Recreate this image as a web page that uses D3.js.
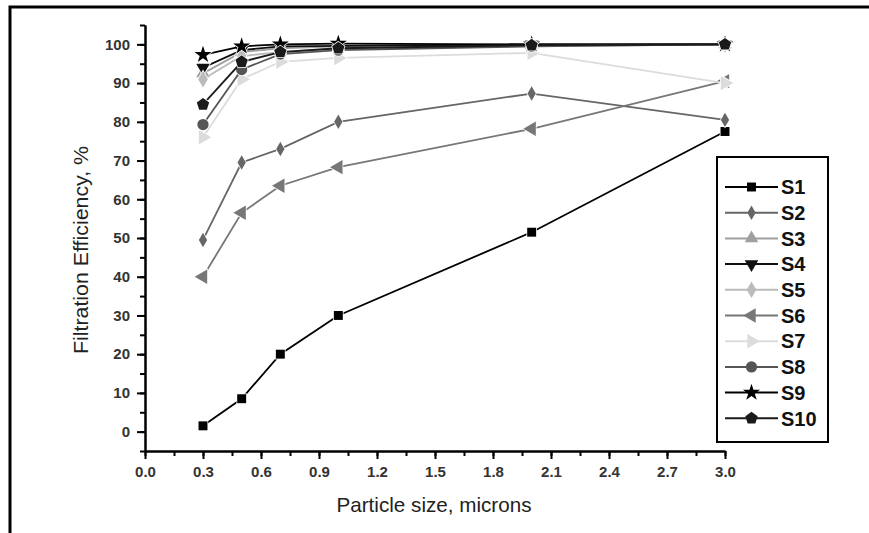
<!DOCTYPE html>
<html>
<head>
<meta charset="utf-8">
<script src="https://cdn.jsdelivr.net/npm/d3@7"></script>
<style>
  body { margin: 0; background: #fff; }
  svg { display: block; font-family: "Liberation Sans", Arial, sans-serif; }
</style>
</head>
<body>
<div id="chart"></div>
<script>
const WIDTH = 869;
const HEIGHT = 533;

// particle sizes (microns) and filtration efficiency (%) per sample
const SIZES = [0.3, 0.5, 0.7, 1.0, 2.0, 3.0];
const NAMES = ['S1', 'S2', 'S3', 'S4', 'S5', 'S6', 'S7', 'S8', 'S9', 'S10'];
const S1 = [1.5, 8.5, 20, 30, 51.5, 77.5];
const S2 = [49.5, 69.5, 73, 80, 87.3, 80.5];
const S3 = [92.5, 98, 99, 99.5, 99.8, 100];
const S4 = [94, 98.5, 99.5, 99.6, 100, 100];
const S5 = [91, 97, 98, 99, 99.5, 100];
const S6 = [40, 56.5, 63.5, 68.3, 78.2, 90.5];
const S7 = [76, 91, 95.5, 96.5, 97.8, 90];
const S8 = [79.3, 93.5, 97.5, 98.5, 99.5, 100];
const S9 = [97.3, 99.5, 100, 100.2, 100, 100];
const S10 = [84.5, 95.5, 98, 99, 99.8, 100];
const VALUES = [S1, S2, S3, S4, S5, S6, S7, S8, S9, S10];

const X_TICKS = [0, 0.3, 0.6, 0.9, 1.2, 1.5, 1.8, 2.1, 2.4, 2.7, 3.0];
const Y_TICKS = [0, 10, 20, 30, 40, 50, 60, 70, 80, 90, 100];

const COLORS = ['#000', '#666', '#a0a0a0', '#111', '#bbb', '#777', '#dcdcdc', '#555', '#000', '#1a1a1a'];

// pentagon, not in d3's symbol set
const symbolPentagon = {
  draw(context, size) {
    const r = Math.sqrt(size / 2.3776);
    for (let i = 0; i < 5; i++) {
      const a = -Math.PI / 2 + i * 2 * Math.PI / 5;
      const x = r * Math.cos(a), y = r * Math.sin(a);
      if (i === 0) context.moveTo(x, y); else context.lineTo(x, y);
    }
    context.closePath();
  }
};
const SYMBOLS = [
  {type: d3.symbolSquare, size: 80, rot: 0},
  {type: d3.symbolDiamond, size: 60, rot: 0},
  {type: d3.symbolTriangle, size: 80, rot: 0},
  {type: d3.symbolTriangle, size: 80, rot: 180},
  {type: d3.symbolDiamond, size: 80, rot: 0},
  {type: d3.symbolTriangle, size: 90, rot: -90},
  {type: d3.symbolTriangle, size: 90, rot: 90},
  {type: d3.symbolCircle, size: 100, rot: 0},
  {type: d3.symbolStar, size: 90, rot: 0},
  {type: symbolPentagon, size: 100, rot: 0}
];

const svg = d3.select('#chart').append('svg')
  .attr('width', WIDTH)
  .attr('height', HEIGHT);

// outer frame (only top and left edges are in view)
svg.append('path')
  .attr('d', `M10,${HEIGHT} L10,7 L${WIDTH},7`)
  .attr('fill', 'none')
  .attr('stroke', '#000')
  .attr('stroke-width', 3);

const x = d3.scaleLinear().domain([0, 3]).range([145, 725]);
const y = d3.scaleLinear().domain([-5, 105]).range([451, 25]);

function styleAxis(g) {
  g.select('.domain').attr('stroke', '#000').attr('stroke-width', 2);
  g.selectAll('.tick line').attr('stroke', '#000').attr('stroke-width', 2);
  g.selectAll('.tick text')
    .attr('fill', '#333')
    .style('font-size', '15px')
    .style('font-weight', 'bold');
}

// minor ticks
svg.append('g')
  .attr('transform', 'translate(0,451)')
  .call(d3.axisBottom(x).tickValues(d3.range(0, 21).map(i => i * 0.15)).tickSize(5).tickFormat('').tickSizeOuter(0))
  .call(styleAxis);
svg.append('g')
  .attr('transform', 'translate(145,0)')
  .call(d3.axisLeft(y).tickValues(d3.range(-5, 110, 5)).tickSize(5).tickFormat('').tickSizeOuter(0))
  .call(styleAxis);

// major ticks
svg.append('g')
  .attr('transform', 'translate(0,451)')
  .call(d3.axisBottom(x).tickValues(X_TICKS).tickSize(8).tickPadding(7).tickFormat(d3.format('.1f')).tickSizeOuter(0))
  .call(styleAxis);
svg.append('g')
  .attr('transform', 'translate(145,0)')
  .call(d3.axisLeft(y).tickValues(Y_TICKS).tickSize(8).tickPadding(7).tickFormat(d3.format('d')).tickSizeOuter(0))
  .call(styleAxis);

svg.append('text')
  .attr('x', 434)
  .attr('y', 512)
  .attr('text-anchor', 'middle')
  .attr('fill', '#222')
  .attr('textLength', 195)
  .attr('lengthAdjust', 'spacingAndGlyphs')
  .style('font-size', '21px')
  .text('Particle size, microns');

svg.append('text')
  .attr('transform', 'translate(88,250) rotate(-90)')
  .attr('text-anchor', 'middle')
  .attr('fill', '#222')
  .attr('textLength', 208)
  .attr('lengthAdjust', 'spacingAndGlyphs')
  .style('font-size', '21px')
  .text('Filtration Efficiency, %');

const line = d3.line()
  .x((d, i) => x(SIZES[i]))
  .y(d => y(d));

const series = svg.append('g')
  .selectAll('g')
  .data(VALUES)
  .join('g');

series.append('path')
  .attr('d', d => line(d))
  .attr('fill', 'none')
  .attr('stroke', (d, i) => COLORS[i])
  .attr('stroke-width', 1.8);

series.each(function (vals, si) {
  const sym = SYMBOLS[si];
  d3.select(this).selectAll('path.pt')
    .data(vals)
    .join('path')
    .attr('class', 'pt')
    .attr('d', d3.symbol().type(sym.type).size(sym.size))
    .attr('transform', (d, i) => `translate(${x(SIZES[i])},${y(d)}) rotate(${sym.rot})`)
    .attr('fill', COLORS[si])
    .attr('stroke', '#fff')
    .attr('stroke-width', 1.5)
    .style('paint-order', 'stroke');
});

// legend
const legend = svg.append('g');
legend.append('rect')
  .attr('x', 717)
  .attr('y', 157)
  .attr('width', 111)
  .attr('height', 285)
  .attr('fill', '#fff')
  .attr('stroke', '#000')
  .attr('stroke-width', 2);

const items = legend.selectAll('g.item')
  .data(NAMES)
  .join('g')
  .attr('class', 'item')
  .attr('transform', (d, i) => `translate(0,${187 + i * 25.7})`);

items.append('line')
  .attr('x1', 725)
  .attr('x2', 778)
  .attr('stroke', (d, i) => COLORS[i])
  .attr('stroke-width', 2);

items.append('path')
  .attr('d', (d, i) => d3.symbol().type(SYMBOLS[i].type).size(SYMBOLS[i].size)())
  .attr('transform', (d, i) => `translate(751.5,0) rotate(${SYMBOLS[i].rot})`)
  .attr('fill', (d, i) => COLORS[i]);

items.append('text')
  .attr('x', 781)
  .attr('dy', '0.36em')
  .attr('fill', '#111')
  .style('font-size', '20px')
  .style('font-weight', 'bold')
  .text(d => d);
</script>
</body>
</html>
